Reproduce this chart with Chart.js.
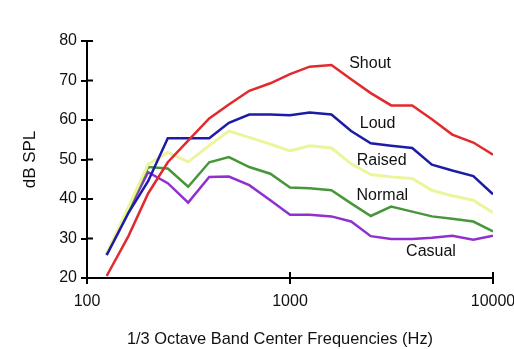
<!DOCTYPE html>
<html>
<head>
<meta charset="utf-8">
<script src="https://cdn.jsdelivr.net/npm/chart.js@4.4.1/dist/chart.umd.min.js"></script>
<style>
html,body{margin:0;padding:0;background:#fff;}
#wrap{position:relative;width:514px;height:349px;}
</style>
</head>
<body>
<div id="wrap"><canvas id="c" width="514" height="349"></canvas></div>
<script>
const frequencies = [125,160,200,250,315,400,500,630,800,1000,1250,1600,2000,2500,3150,4000,5000,6300,8000,10000];
const shout  = [20.5,30.6,41.4,49.3,54.8,60.4,63.9,67.4,69.3,71.6,73.5,73.9,70.3,66.8,63.7,63.7,60.2,56.3,54.3,51.2];
const loud   = [25.8,36.5,44.5,55.4,55.4,55.4,59.3,61.4,61.4,61.2,61.9,61.4,57.2,54.1,53.5,52.9,48.7,47.2,45.8,41.2];
const raised = [26.2,38.0,48.8,51.8,49.4,53.5,57.2,55.6,53.9,52.2,53.5,52.9,48.9,46.2,45.6,45.2,42.2,40.8,39.7,36.5];
const normal = [26.0,37.5,48.1,47.7,43.1,49.3,50.6,48.1,46.4,42.9,42.7,42.2,38.9,35.7,38.1,36.8,35.6,35.0,34.3,31.8];
const casual = [26.0,37.0,46.8,44.0,39.1,45.6,45.7,43.5,39.7,36.0,36.0,35.6,34.3,30.6,29.9,29.9,30.2,30.7,29.7,30.7];
const seriesNames = ['Shout','Loud','Raised','Normal','Casual'];
const xTickValues = [100,1000,10000];
const yTickValues = [20,30,40,50,60,70,80];
const xTitle = '1/3 Octave Band Center Frequencies (Hz)';
const yTitle = 'dB SPL';
// label anchor points in data space (frequency, dB)
const labelFreq = [2480,2700,2830,2850,4950];
const labelDb   = [74.4,59.0,49.7,40.9,26.7];

const colors = ['#e22a2e','#1c1ca6','#ecf59c','#47973a','#8f30cf'];
const allSeries = [shout,loud,raised,normal,casual];

const datasets = allSeries.map((s,i)=>({
  label: seriesNames[i],
  data: frequencies.map((f,j)=>({x:f,y:s[j]})),
  borderColor: colors[i],
  backgroundColor: colors[i],
  borderWidth: i===2 ? 3 : 2.5,
  pointRadius: 0,
  tension: 0,
  fill: false
}));

const FONT = '"Liberation Sans", Arial, sans-serif';

const annot = {
  id:'annot',
  afterDatasetsDraw(chart){
    const ctx = chart.ctx, xs = chart.scales.x, ys = chart.scales.y;
    ctx.save();
    ctx.fillStyle = '#111';
    ctx.font = '16px ' + FONT;
    ctx.textAlign = 'center';
    ctx.textBaseline = 'middle';
    seriesNames.forEach((n,i)=>{
      ctx.fillText(n, xs.getPixelForValue(labelFreq[i]), ys.getPixelForValue(labelDb[i]));
    });
    // x axis title
    ctx.font = '16.4px ' + FONT;
    ctx.fillText(xTitle, 280, 339);
    // inner half of crossing tick marks
    ctx.strokeStyle = '#000';
    ctx.lineWidth = 2;
    ctx.beginPath();
    const a = chart.chartArea;
    yTickValues.forEach(v=>{
      const y = ys.getPixelForValue(v);
      ctx.moveTo(a.left, y); ctx.lineTo(a.left+6, y);
    });
    xTickValues.forEach(v=>{
      const x = xs.getPixelForValue(v);
      ctx.moveTo(x, a.bottom); ctx.lineTo(x, a.bottom-6);
    });
    ctx.stroke();
    ctx.restore();
  }
};

new Chart(document.getElementById('c'), {
  type:'line',
  data:{datasets},
  plugins:[annot],
  options:{
    responsive:false,
    animation:false,
    events:[],
    layout:{autoPadding:false,padding:{top:41,right:21,left:20,bottom:0}},
    plugins:{legend:{display:false},tooltip:{enabled:false}},
    scales:{
      x:{
        type:'logarithmic',
        min:100,max:10000,
        afterBuildTicks(s){ s.ticks = xTickValues.map(v=>({value:v})); },
        afterFit(s){ s.height = 71; s.paddingLeft = 0; s.paddingRight = 0; },
        border:{color:'#000',width:2},
        grid:{drawOnChartArea:false,tickLength:6,color:'#000',lineWidth:2},
        ticks:{color:'#111',font:{family:FONT,size:16},maxRotation:0,padding:8,callback:(v)=>String(v)},
        title:{display:false}
      },
      y:{
        min:20,max:80,
        afterBuildTicks(s){ s.ticks = yTickValues.map(v=>({value:v})); },
        afterFit(s){ s.width = 67; s.paddingTop = 0; s.paddingBottom = 0; },
        border:{color:'#000',width:2},
        grid:{drawOnChartArea:false,tickLength:6,color:'#000',lineWidth:2},
        ticks:{color:'#111',font:{family:FONT,size:16},padding:4},
        title:{display:true,text:yTitle,color:'#111',font:{family:FONT,size:17},padding:{top:0,bottom:4}}
      }
    }
  }
});
</script>
</body>
</html>
